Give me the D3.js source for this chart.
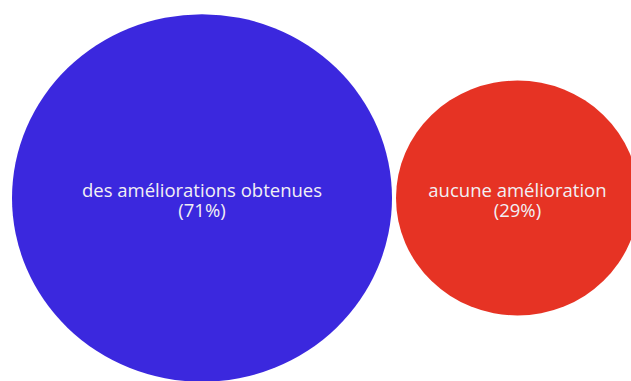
<!DOCTYPE html>
<html>
<head>
<meta charset="utf-8">
<script src="https://cdn.jsdelivr.net/npm/d3@7"></script>
<style>
  html, body { margin: 0; padding: 0; background: #fff; }
  svg { display: block; }
</style>
</head>
<body>
<div id="chart"></div>
<script>
// data
const categories = ['des améliorations obtenues', 'aucune amélioration'];
const shares = [71, 29];
const colors = ['#3b28de', '#e63324'];

const width = 631, height = 381;
const gap = 4;
const squash = 0.967; // reference is slightly squeezed vertically

const svg = d3.select('#chart')
    .append('svg')
    .attr('width', width)
    .attr('height', height);

const rScale = d3.scaleSqrt()
    .domain([0, d3.max(shares)])
    .range([0, 190]);

// lay bubbles side by side, left to right
let x = 12;
const nodes = categories.map((c, i) => {
    const r = rScale(shares[i]);
    const node = { label: c, value: shares[i], color: colors[i], r: r, cx: x + r, cy: 198 };
    x += 2 * r + gap;
    return node;
});

const bubble = svg.selectAll('.bubble')
    .data(nodes)
    .enter()
    .append('g')
    .attr('class', 'bubble')
    .attr('transform', d => `translate(${d.cx},${d.cy})`);

bubble.append('ellipse')
    .attr('rx', d => d.r)
    .attr('ry', d => d.r * squash)
    .attr('fill', d => d.color);

const label = bubble.append('text')
    .attr('text-anchor', 'middle')
    .style('font-family', '"Open Sans", sans-serif')
    .style('font-size', '18.5px')
    .style('fill', '#f2f0f4');

label.append('tspan')
    .attr('x', 0)
    .attr('y', -1)
    .text(d => d.label);

label.append('tspan')
    .attr('x', 0)
    .attr('y', 18.5)
    .text(d => `(${d.value}%)`);
</script>
</body>
</html>
